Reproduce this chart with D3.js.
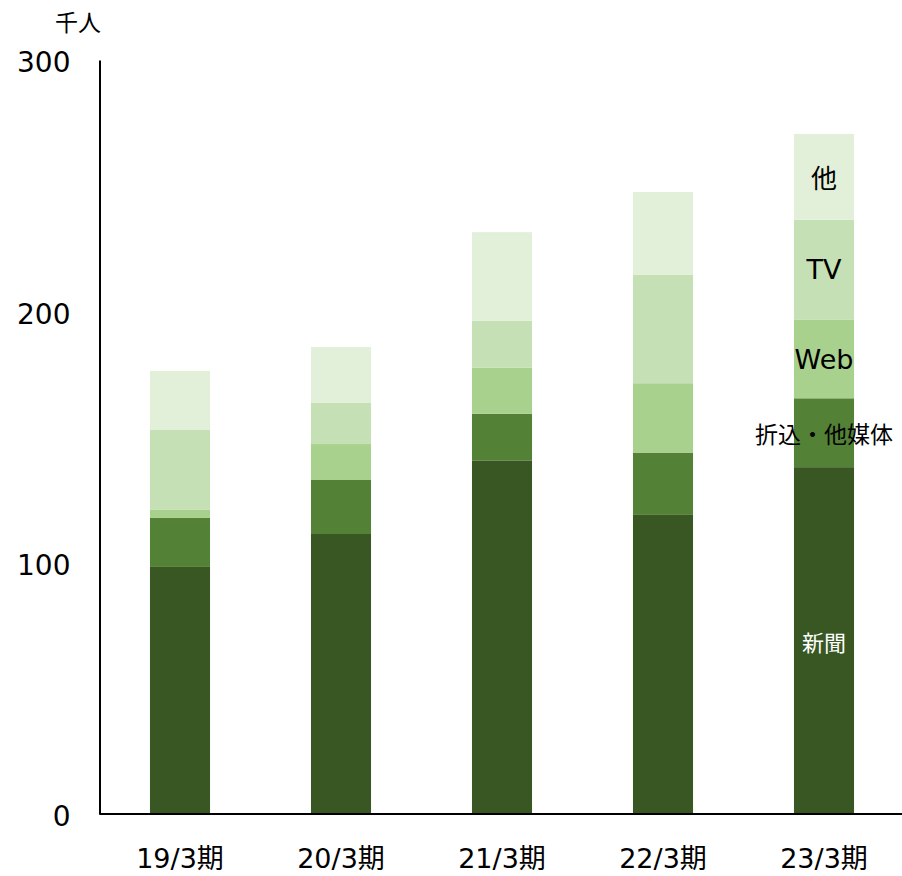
<!DOCTYPE html>
<html><head><meta charset="utf-8">
<script src="https://cdn.jsdelivr.net/npm/d3@7"></script>
<style>body{margin:0;background:#fff;}svg{display:block;font-family:"Noto Sans CJK JP","Noto Sans",sans-serif;}</style>
</head><body>
<svg id="c" width="902" height="876"></svg>
<script>
const categories = ["19/3期","20/3期","21/3期","22/3期","23/3期"];
const seriesNames = ["新聞","折込・他媒体","Web","TV","他"];
const shinbun = [98.3, 111.4, 140.7, 119.0, 138.0];
const orikomi = [19.5, 21.5, 18.5, 24.8, 27.4];
const web     = [3.2, 14.3, 18.4, 27.6, 31.2];
const tv      = [31.8, 16.5, 18.7, 43.1, 39.8];
const other   = [23.5, 22.1, 35.2, 33.0, 34.2];
const yTicks = [0, 100, 200, 300];
const unitLabel = "千人";

const colors = ["#385723", "#538135", "#a9d18e", "#c5e0b4", "#e2f0d9"];
const labelColors = ["#ffffff", "#000000", "#000000", "#000000", "#000000"];
const labelSizes = [22, 23, 27, 27, 26];
const labelFonts = ["'Noto Sans CJK JP'", "'Noto Sans CJK JP'", "'DejaVu Sans'", "'DejaVu Sans'", "'Noto Sans CJK JP'"];

const rows = categories.map((c, i) => ({cat: c, "新聞": shinbun[i], "折込・他媒体": orikomi[i], "Web": web[i], "TV": tv[i], "他": other[i]}));
const stack = d3.stack().keys(seriesNames)(rows);

const svg = d3.select("#c");
const x0 = 99.5, x1 = 904.5, yb = 814, yt = 60;
const x = d3.scaleBand().domain(categories).range([x0, x1]).paddingInner(0.627).paddingOuter(0.3135);
const y = d3.scaleLinear().domain([0, 300]).range([yb, yt]);

const g = svg.append("g");
stack.forEach((s, si) => {
  g.selectAll(null).data(s).enter().append("rect")
    .attr("x", d => x(d.data.cat))
    .attr("width", x.bandwidth())
    .attr("y", d => y(d[1]))
    .attr("height", d => y(d[0]) - y(d[1]))
    .attr("fill", colors[si]);
});

// series labels on last bar
const last = categories.length - 1;
stack.forEach((s, si) => {
  const d = s[last];
  const yy = si === 0 ? y(d[0]) - (y(d[0]) - y(d[1])) * 0.5 : (y(d[0]) + y(d[1])) / 2;
  svg.append("text")
    .attr("x", x(categories[last]) + x.bandwidth() / 2)
    .attr("y", yy)
    .attr("text-anchor", "middle")
    .attr("dominant-baseline", "central")
    .attr("font-size", labelSizes[si])
    .attr("font-family", labelFonts[si] + ", 'Noto Sans CJK JP', sans-serif")
    .attr("fill", labelColors[si])
    .text(seriesNames[si]);
});

// y axis
const ya = d3.axisLeft(y).tickValues(yTicks).tickSize(0).tickPadding(29);
const yg = svg.append("g").attr("transform", `translate(${x0},0)`).call(ya);
yg.select(".domain").attr("stroke", "#000").attr("stroke-width", 2);
yg.selectAll("text").attr("font-size", 28).attr("fill", "#000").attr("dy", "0.42em")
  .attr("font-family", "'DejaVu Sans', sans-serif");

// x axis
const xa = d3.axisBottom(x).tickSize(0);
const xg = svg.append("g").attr("transform", `translate(0,${yb})`).call(xa);
xg.select(".domain").attr("stroke", "#000").attr("stroke-width", 2).attr("d", `M${x0},0H902`);
xg.selectAll("text").attr("font-size", 27).attr("fill", "#000").attr("y", 54).attr("dy", 0)
  .attr("font-family", "'DejaVu Sans', 'Noto Sans CJK JP', sans-serif");

svg.append("text").attr("x", 78).attr("y", 21).attr("text-anchor", "middle").attr("dominant-baseline", "central")
  .attr("font-size", 23).attr("fill", "#000").text(unitLabel);
</script>
</body></html>
